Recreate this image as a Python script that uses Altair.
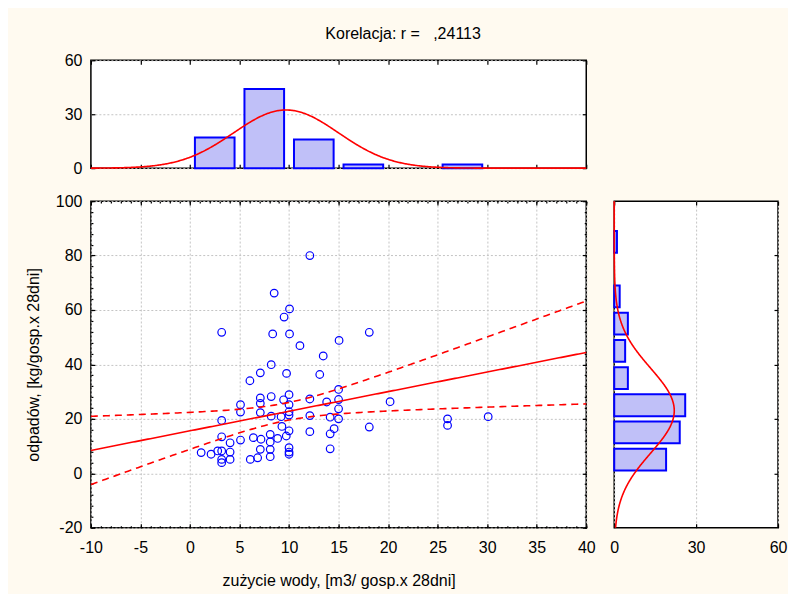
import altair as alt
import pandas as pd

# ---- scatter data (water use vs waste) ----
water = [12.1, 8.5, 10.05, 9.5, 3.2, 8.35, 10.05, 18.1, 11.1, 15.05, 13.45, 8.2, 7.1, 9.75, 13.1, 6.05, 15.0,
         5.1, 5.1, 7.1, 7.1, 7.1, 8.2, 9.45, 10.0, 10.0, 10.0, 10.0, 8.2, 9.2, 12.1, 12.1, 13.8, 15.0, 15.0, 15.0,
         14.15, 20.2, 26.0, 30.1,
         3.2, 26.0, 18.1, 12.1, 14.55, 14.15, 14.15, 9.28, 10.0, 9.72, 8.85, 8.1, 8.1, 8.1, 8.1, 7.17, 6.4, 5.1,
         7.1, 6.83, 6.09, 3.2, 4.05, 4.05, 4.05, 3.2, 3.2, 3.2, 1.13, 2.13, 2.8, 10.0, 10.0, 10.0]
waste = [80.0, 66.2, 60.4, 57.4, 51.8, 51.2, 51.2, 51.8, 46.9, 48.8, 43.1, 39.9, 36.9, 36.7, 36.3, 34.0, 30.8,
         25.2, 22.5, 27.7, 25.7, 22.3, 28.2, 27.0, 28.9, 25.2, 22.6, 21.4, 21.0, 20.8, 27.3, 21.2, 26.2, 27.1, 23.7, 20.0,
         20.6, 26.3, 20.0, 20.8,
         19.4, 17.6, 17.0, 15.3, 16.4, 14.5, 9.0, 17.2, 15.6, 13.7, 12.8, 14.3, 11.5, 8.8, 6.1, 12.5, 13.1, 12.2,
         8.8, 5.7, 5.1, 13.4, 11.2, 7.8, 5.1, 8.2, 5.1, 3.9, 7.6, 7.0, 8.2, 9.4, 7.8, 7.0]

# ---- marginal histograms ----
top_bin_start = [0, 5, 10, 15, 25]
top_counts = [17, 44, 16, 2, 2]
top_bin_width = 5
right_bin_start = [0, 10, 20, 30, 40, 50, 60, 80]
right_counts = [19, 24, 26, 5, 4, 5, 2, 1]
right_bin_width = 10

# ---- fitted parameters ----
n_obs = 86
mean_x, sd_x = 9.7, 5.3
mean_y, sd_y = 23.0, 15.6
reg_intercept, reg_slope = 15.6, 0.72
resid_sd, t_crit = 15.1, 1.99

# ---- axis ticks ----
x_ticks = [-10, -5, 0, 5, 10, 15, 20, 25, 30, 35, 40]
y_ticks = [-20, 0, 20, 40, 60, 80, 100]
x_minor_ticks = list(range(-10, 41, 1))
y_minor_ticks = list(range(-20, 101, 4))
top_y_ticks = [0, 30, 60]
right_x_ticks = [0, 30, 60]

FONT = "Liberation Sans"
FS = 16
BAR_FILL = "#C0C0F8"
BLUE = "#0000FF"
RED = "#FF0000"
GRID = "#C4C4C4"
LABEL_EXPR = "'' + datum.value"

xscale = alt.Scale(domain=[-10, 40], nice=False, zero=False)
yscale = alt.Scale(domain=[-20, 100], nice=False, zero=False)
top_yscale = alt.Scale(domain=[0, 60], nice=False, zero=False)
right_xscale = alt.Scale(domain=[0, 60], nice=False, zero=False)


def ax(orient, values, labels=True, grid=False, title=None, size=4, **kw):
    d = dict(orient=orient, values=values, labels=labels, grid=grid, domain=False,
             tickSize=size, offset=-size, tickColor="black", tickWidth=1.2,
             labelFlush=False, labelOverlap=False, labelExpr=LABEL_EXPR)
    if grid:
        d.update(gridDash=[2, 2], gridColor=GRID, gridWidth=1)
    d["title"] = title
    d.update(kw)
    return alt.Axis(**d)


# ================= top histogram =================
top_df = pd.DataFrame({"start": top_bin_start, "count": top_counts})
top_bars = alt.Chart(top_df).transform_calculate(
    b0=f"datum.start + {0.1 * top_bin_width}",
    b1=f"datum.start + {0.9 * top_bin_width}",
    zero="0",
).mark_rect(fill=BAR_FILL, stroke=BLUE, strokeWidth=2).encode(
    x=alt.X("b0:Q", scale=xscale, axis=ax("bottom", x_ticks, labels=False)),
    x2="b1:Q",
    y=alt.Y("count:Q", scale=top_yscale, axis=ax("left", top_y_ticks, grid=True, labelPadding=9)),
    y2="zero:Q",
)
top_curve = alt.Chart(alt.sequence(-10, 40.05, 0.1, as_="xv")).transform_calculate(
    dens=f"{n_obs * top_bin_width}/({sd_x}*sqrt(2*PI))*exp(-0.5*pow((datum.xv-{mean_x})/{sd_x},2))"
).mark_line(color=RED, strokeWidth=1.6).encode(
    x=alt.X("xv:Q", scale=xscale, axis=None),
    y=alt.Y("dens:Q", scale=top_yscale, axis=None),
)
top_mirror = alt.Chart(top_df).mark_point(opacity=0).encode(
    x=alt.X("start:Q", scale=xscale, axis=ax("top", x_ticks, labels=False)),
    y=alt.Y("count:Q", scale=top_yscale, axis=ax("right", top_y_ticks, labels=False)),
)
top = alt.layer(top_bars, top_curve, top_mirror).resolve_axis(
    x="independent", y="independent"
).properties(width=496, height=108)

# ================= main scatter =================
sc_df = pd.DataFrame({"water": water, "waste": waste})
points = alt.Chart(sc_df).mark_point(
    shape="circle", filled=False, color=BLUE, size=58, strokeWidth=1.2, opacity=1
).encode(
    x=alt.X("water:Q", scale=xscale,
            axis=ax("bottom", x_ticks, grid=True, title="zużycie wody, [m3/ gosp.x 28dni]",
                    labelPadding=12, titlePadding=17)),
    y=alt.Y("waste:Q", scale=yscale,
            axis=ax("left", y_ticks, grid=True, title="odpadów, [kg/gosp.x 28dni]",
                    labelPadding=9, titlePadding=14)),
)
reg_base = alt.Chart(alt.sequence(-10, 40.05, 0.25, as_="xv")).transform_calculate(
    fit=f"{reg_intercept} + {reg_slope}*datum.xv",
    half=f"{t_crit}*{resid_sd}*sqrt(1/{n_obs} + pow(datum.xv-{mean_x},2)/({(n_obs - 1) * sd_x ** 2}))",
).transform_calculate(
    lo="datum.fit - datum.half",
    hi="datum.fit + datum.half",
)
fit_line = reg_base.mark_line(color=RED, strokeWidth=1.6).encode(
    x=alt.X("xv:Q", scale=xscale, axis=None),
    y=alt.Y("fit:Q", scale=yscale, axis=None),
)
lo_line = reg_base.mark_line(color=RED, strokeWidth=1.6, strokeDash=[7, 5]).encode(
    x=alt.X("xv:Q", scale=xscale, axis=None),
    y=alt.Y("lo:Q", scale=yscale, axis=None),
)
hi_line = reg_base.mark_line(color=RED, strokeWidth=1.6, strokeDash=[7, 5]).encode(
    x=alt.X("xv:Q", scale=xscale, axis=None),
    y=alt.Y("hi:Q", scale=yscale, axis=None),
)
main_mirror = alt.Chart(sc_df).mark_point(opacity=0).encode(
    x=alt.X("water:Q", scale=xscale, axis=ax("top", x_ticks, labels=False)),
    y=alt.Y("waste:Q", scale=yscale, axis=ax("right", y_ticks, labels=False)),
)
main_minor_a = alt.Chart(sc_df).mark_point(opacity=0).encode(
    x=alt.X("water:Q", scale=xscale, axis=ax("bottom", x_minor_ticks, labels=False, size=2)),
    y=alt.Y("waste:Q", scale=yscale, axis=ax("left", y_minor_ticks, labels=False, size=2)),
)
main_minor_b = alt.Chart(sc_df).mark_point(opacity=0).encode(
    x=alt.X("water:Q", scale=xscale, axis=ax("top", x_minor_ticks, labels=False, size=2)),
    y=alt.Y("waste:Q", scale=yscale, axis=ax("right", y_minor_ticks, labels=False, size=2)),
)
main = alt.layer(points, fit_line, lo_line, hi_line, main_mirror, main_minor_a, main_minor_b).resolve_axis(
    x="independent", y="independent"
).properties(width=496, height=327)

# ================= right histogram =================
right_df = pd.DataFrame({"start": right_bin_start, "count": right_counts})
right_bars = alt.Chart(right_df).transform_calculate(
    b0=f"datum.start + {0.1 * right_bin_width}",
    b1=f"datum.start + {0.9 * right_bin_width}",
    zero="0",
).mark_rect(fill=BAR_FILL, stroke=BLUE, strokeWidth=2).encode(
    y=alt.Y("b0:Q", scale=yscale, axis=ax("right", [0, 20, 40, 60, 80], labels=False)),
    y2="b1:Q",
    x=alt.X("count:Q", scale=right_xscale, axis=ax("bottom", right_x_ticks, grid=True, labelPadding=12)),
    x2="zero:Q",
)
right_curve = alt.Chart(alt.sequence(-20, 100.05, 0.25, as_="yv")).transform_calculate(
    dens=f"{n_obs * right_bin_width}/({sd_y}*sqrt(2*PI))*exp(-0.5*pow((datum.yv-{mean_y})/{sd_y},2))"
).mark_line(color=RED, strokeWidth=1.6).encode(
    x=alt.X("dens:Q", scale=right_xscale, axis=None),
    y=alt.Y("yv:Q", scale=yscale, axis=None),
    order="yv:Q",
)
right_mirror = alt.Chart(right_df).mark_point(opacity=0).encode(
    x=alt.X("count:Q", scale=right_xscale, axis=ax("top", right_x_ticks, labels=False)),
    y=alt.Y("start:Q", scale=yscale, axis=None),
)
right = alt.layer(right_bars, right_curve, right_mirror).resolve_axis(
    x="independent", y="independent"
).properties(width=164, height=327)

# ================= blank corner =================
blank = alt.Chart(pd.DataFrame({"a": [0]})).mark_point(opacity=0).encode(
    x=alt.X("a:Q", axis=None), y=alt.Y("a:Q", axis=None)
).properties(width=164, height=108, view=alt.ViewBackground(stroke="transparent", fill="transparent"))

chart = alt.concat(
    top, blank, main, right,
    columns=2,
    spacing={"row": 33, "column": 28},
    bounds="flush",
    align="each",
    title=alt.TitleParams(
        text="Korelacja: r =\u00a0\u00a0\u00a0,24113",
        anchor="middle", fontSize=FS, font=FONT, fontWeight="normal", color="black", offset=10, dx=-3,
    ),
).properties(
    padding={"left": 16, "top": 17, "right": 0, "bottom": 4},
).configure(
    background="#FFFAF0", font=FONT,
).configure_view(
    stroke="black", strokeWidth=1.5, fill="white",
).configure_axis(
    labelFont=FONT, titleFont=FONT, labelFontSize=FS, titleFontSize=FS,
    labelColor="black", titleColor="black", titleFontWeight="normal",
)

chart.save("out.html", embed_options={"renderer": "svg", "actions": False})
